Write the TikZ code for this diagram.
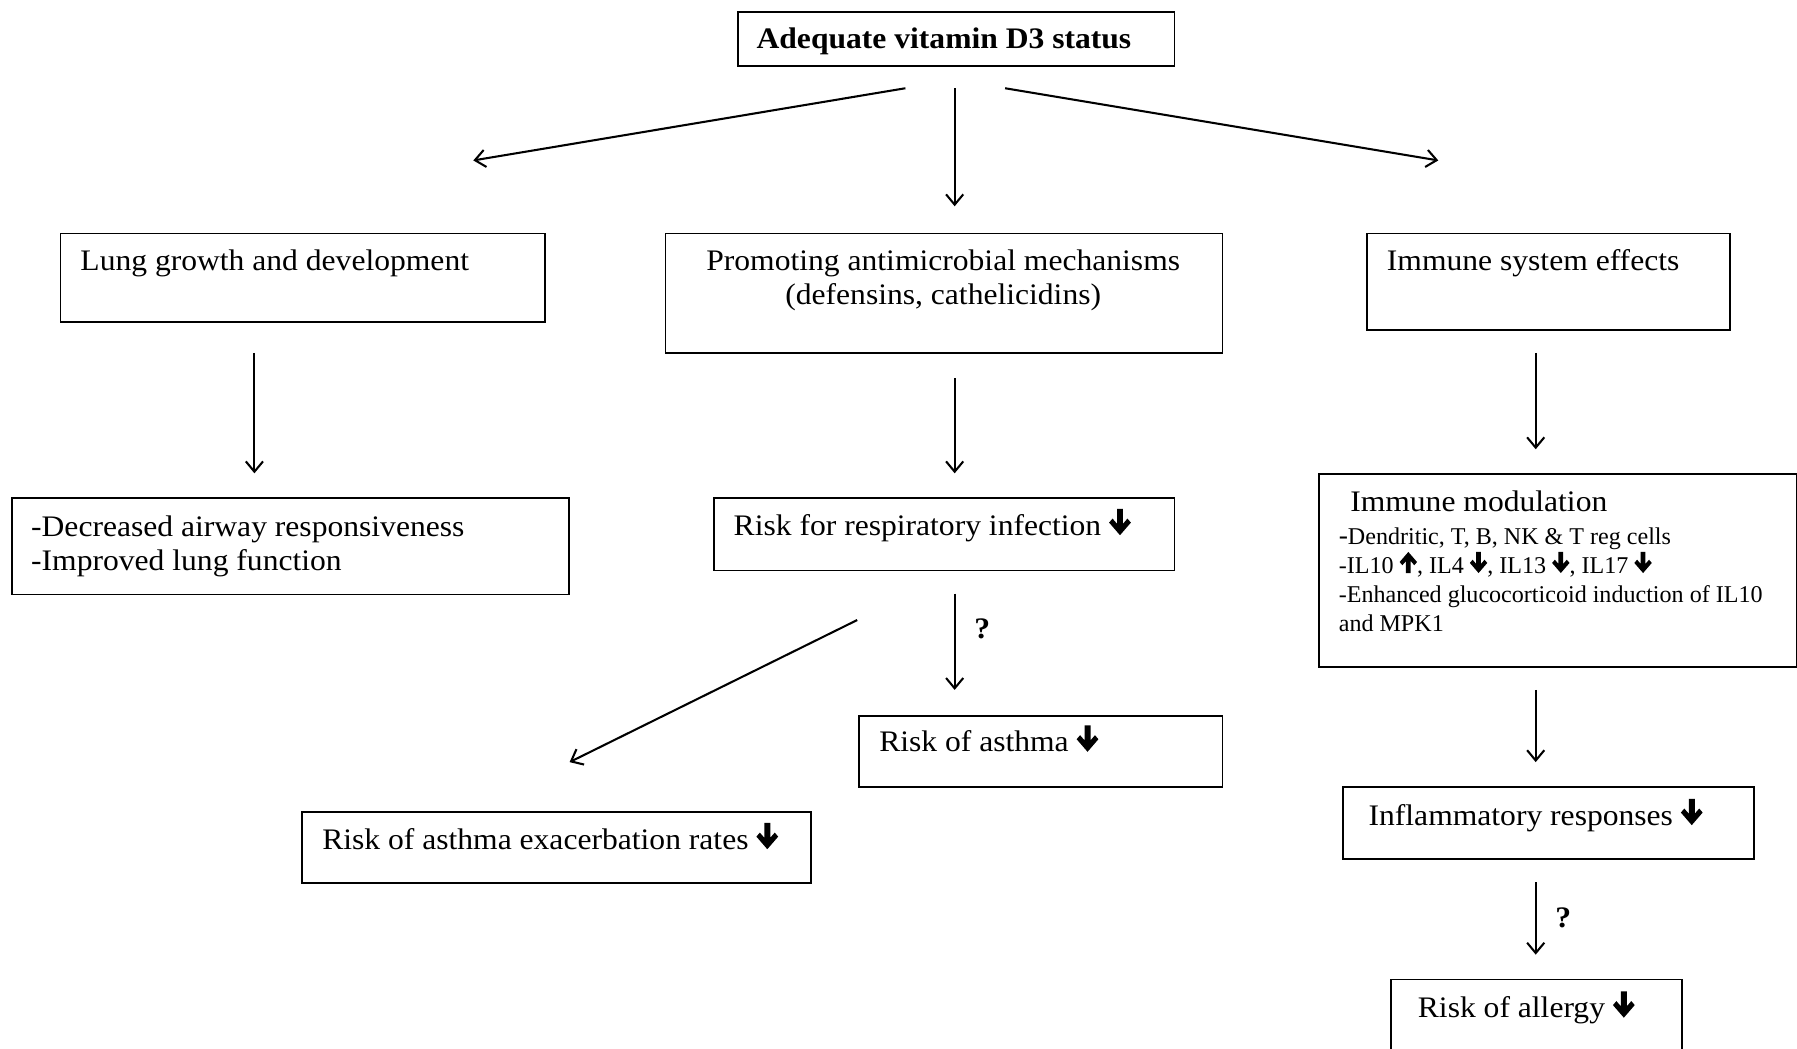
\documentclass[tikz,border=0pt]{standalone}
\usepackage{fontspec}
\setmainfont{Liberation Serif}[FakeStretch=1.06]
\newfontfamily\tnr{Liberation Serif}
\usetikzlibrary{arrows.meta}

\newcommand{\dnpath}{(-2.6,23)--(2.6,23)--(2.6,10)--(6.5,14.5)--(9.5,11)--(0,0)--(-9.5,11)--(-6.5,14.5)--(-2.6,10)--cycle}
\newcommand{\uppath}{(-2.6,0)--(2.6,0)--(2.6,13)--(6.5,8.5)--(9.5,12)--(0,23)--(-9.5,12)--(-6.5,8.5)--(-2.6,13)--cycle}
\newcommand{\bigdn}{\tikz[baseline=0pt,x=1pt,y=1pt]{\fill \dnpath;}}
\newcommand{\smdn}{\tikz[baseline=0pt,x=0.8pt,y=0.8pt]{\fill \dnpath;}}
\newcommand{\smup}{\tikz[baseline=0pt,x=0.8pt,y=0.8pt]{\fill \uppath;}}

\begin{document}
\begin{tikzpicture}[x=1pt,y=1pt,
  box/.style={draw, line width=1.5pt, inner sep=0pt, anchor=north west},
  txt/.style={inner sep=0pt, anchor=base west, font=\fontsize{26}{31}\selectfont},
  ctxt/.style={inner sep=0pt, anchor=base, font=\fontsize{26}{31}\selectfont},
  small/.style={inner sep=0pt, anchor=base west, font=\tnr\fontsize{21}{25}\selectfont},
  qm/.style={inner sep=0pt, anchor=base west, font=\bfseries\fontsize{26}{31}\selectfont},
  arr/.style={line width=1.8pt, -{Straight Barb[length=9pt,width=15pt,line width=1.8pt]}}
]
\useasboundingbox (0,0) rectangle (1568,-915);
\fill[white] (0,0) rectangle (1568,-915);

% boxes
\node[box, minimum width=381pt, minimum height=47pt] (top) at (643,-10) {};
\node[box, minimum width=423pt, minimum height=77pt] (lung) at (52,-203) {};
\node[box, minimum width=486pt, minimum height=84pt] (airway) at (10,-434) {};
\node[box, minimum width=486pt, minimum height=104pt] (anti) at (580,-203) {};
\node[box, minimum width=402pt, minimum height=63pt] (resp) at (622,-434) {};
\node[box, minimum width=317pt, minimum height=62pt] (asthma) at (749,-624) {};
\node[box, minimum width=444pt, minimum height=62pt] (exac) at (263,-708) {};
\node[box, minimum width=317pt, minimum height=84pt] (immeff) at (1192,-203) {};
\node[box, minimum width=417pt, minimum height=168pt] (immmod) at (1150,-413) {};
\node[box, minimum width=359pt, minimum height=63pt] (infl) at (1171,-686) {};
\node[box, minimum width=254pt, minimum height=70pt] (allergy) at (1213,-854) {};

% texts
\node[txt, font=\bfseries\fontsize{26}{31}\selectfont] (ttop) at (660,-42) {Adequate vitamin D3 status};
\node[txt] (tlung) at (70,-236) {Lung growth and development};
\node[txt] (tair1) at (27,-468) {-Decreased airway responsiveness};
\node[txt] (tair2) at (27,-498) {-Improved lung function};
\node[ctxt] (tanti1) at (823,-236) {Promoting antimicrobial mechanisms};
\node[ctxt] (tanti2) at (823,-266) {(defensins, cathelicidins)};
\node[txt] (tresp) at (640,-467) {Risk for respiratory infection \bigdn};
\node[txt] (tasth) at (767,-656) {Risk of asthma \bigdn};
\node[txt] (texac) at (281,-741) {Risk of asthma exacerbation rates \bigdn};
\node[txt] (timm) at (1210,-236) {Immune system effects};
\node[txt] (tmod) at (1178,-446) {Immune modulation};
\node[small] (tm1) at (1168,-475) {{\fontsize{24}{25}\selectfont -}Dendritic, T, B, NK \& T reg cells};
\node[small] (tm2) at (1168,-500) {-IL10 \smup, IL4 \smdn, IL13 \smdn, IL17 \smdn};
\node[small] (tm3) at (1168,-526) {-Enhanced glucocorticoid induction of IL10};
\node[small] (tm4) at (1168,-551) {and MPK1};
\node[txt] (tinfl) at (1194,-720) {Inflammatory responses \bigdn};
\node[txt] (tall) at (1237,-888) {Risk of allergy \bigdn};
\node[qm] (q1) at (850,-557) {?};
\node[qm] (q2) at (1357,-809) {?};

% connector end points
\coordinate (a1s) at (790,-77);  \coordinate (a1e) at (413,-140);
\coordinate (a2s) at (833,-77);  \coordinate (a2e) at (833,-180);
\coordinate (a3s) at (877,-77);  \coordinate (a3e) at (1255,-140);
\coordinate (a4s) at (222,-308); \coordinate (a4e) at (222,-413);
\coordinate (a5s) at (833,-330); \coordinate (a5e) at (833,-413);
\coordinate (a6s) at (833,-518); \coordinate (a6e) at (833,-602);
\coordinate (a7s) at (748,-541); \coordinate (a7e) at (497,-665);
\coordinate (a8s) at (1340,-308); \coordinate (a8e) at (1340,-392);
\coordinate (a9s) at (1340,-602); \coordinate (a9e) at (1340,-665);
\coordinate (a10s) at (1340,-770); \coordinate (a10e) at (1340,-833);

\foreach \i in {1,...,10} { \draw[arr] (a\i s) -- (a\i e); }
\end{tikzpicture}
\end{document}
